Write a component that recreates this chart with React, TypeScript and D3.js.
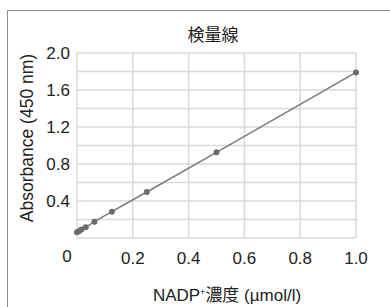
import React, { useRef, useEffect } from 'react';
import * as d3 from 'd3';

const concentrations = [0, 0.0078, 0.0156, 0.03125, 0.0625, 0.125, 0.25, 0.5, 1.0];
const absorbances = [0.062, 0.075, 0.092, 0.116, 0.177, 0.285, 0.497, 0.926, 1.79];
const xTicks = [0.2, 0.4, 0.6, 0.8, 1.0];
const yTicks = [0.4, 0.8, 1.2, 1.6, 2.0];
const gridSteps = [0, 0.2, 0.4, 0.6, 0.8, 1.0, 1.2, 1.4, 1.6, 1.8, 2.0];

const FONT = '"Liberation Sans", Arial, "Noto Sans CJK JP", sans-serif';

const App = () => {
    const svgRef = useRef<SVGSVGElement>(null);

    useEffect(() => {
        const width = 390;
        const height = 307;
        const margin = { top: 53, right: 34, bottom: 69, left: 77 };
        const w = width - margin.left - margin.right;
        const h = height - margin.top - margin.bottom;

        const root = d3.select(svgRef.current);
        root.selectAll('*').remove();
        root.attr('width', width).attr('height', height)
            .style('display', 'block')
            .style('overflow', 'hidden')
            .style('font-family', FONT);

        root.append('rect')
            .attr('x', 7.5).attr('y', 10.5)
            .attr('width', 390).attr('height', 310)
            .attr('fill', '#fff').attr('stroke', '#8c8c8c').attr('stroke-width', 1);

        const svg = root.append('g')
            .attr('transform', `translate(${margin.left},${margin.top})`);

        const x = d3.scaleLinear().domain([0, 1]).range([0, w]);
        const y = d3.scaleLinear().domain([0, 2]).range([h, 0]);

        // grid
        svg.append('g').selectAll('line.h')
            .data(gridSteps)
            .enter().append('line')
            .attr('x1', 0).attr('x2', w)
            .attr('y1', (d) => y(d)).attr('y2', (d) => y(d))
            .attr('stroke', '#d9d9d9').attr('stroke-width', 1.5);

        svg.append('g').selectAll('line.v')
            .data([0, ...xTicks])
            .enter().append('line')
            .attr('x1', (d) => x(d)).attr('x2', (d) => x(d))
            .attr('y1', 0).attr('y2', h)
            .attr('stroke', '#d9d9d9').attr('stroke-width', 1.5);

        // tick labels
        svg.append('g').selectAll('text')
            .data(yTicks)
            .enter().append('text')
            .attr('x', -7).attr('y', (d) => y(d))
            .attr('dy', '0.35em')
            .attr('text-anchor', 'end')
            .attr('font-size', 17)
            .attr('fill', '#222')
            .text((d) => d.toFixed(1));

        svg.append('g').selectAll('text')
            .data(xTicks)
            .enter().append('text')
            .attr('x', (d) => x(d)).attr('y', h + 20)
            .attr('dy', '0.35em')
            .attr('text-anchor', 'middle')
            .attr('font-size', 17)
            .attr('fill', '#222')
            .text((d) => d.toFixed(1));

        svg.append('text')
            .attr('x', x(0) - 10).attr('y', h + 18)
            .attr('dy', '0.35em')
            .attr('text-anchor', 'middle')
            .attr('font-size', 17)
            .attr('fill', '#222')
            .text('0');

        // line + points
        const pts = concentrations.map((c, i) => [c, absorbances[i]] as [number, number]);
        const line = d3.line<[number, number]>()
            .x((d) => x(d[0]))
            .y((d) => y(d[1]));

        svg.append('path')
            .datum(pts)
            .attr('d', line)
            .attr('fill', 'none')
            .attr('stroke', '#7a7a7a')
            .attr('stroke-width', 1.5);

        svg.selectAll('circle')
            .data(pts)
            .enter().append('circle')
            .attr('cx', (d) => x(d[0]))
            .attr('cy', (d) => y(d[1]))
            .attr('r', 3)
            .attr('fill', '#6b6b6b');

        // titles
        root.append('text')
            .attr('x', 213).attr('y', 35)
            .attr('dy', '0.35em')
            .attr('text-anchor', 'middle')
            .attr('font-size', 17)
            .attr('fill', '#222')
            .text('検量線');

        root.append('text')
            .attr('transform', 'translate(27,138) rotate(-90)')
            .attr('dy', '0.35em')
            .attr('text-anchor', 'middle')
            .attr('font-size', 17.5)
            .attr('fill', '#222')
            .text('Absorbance (450 nm)');

        const xt = root.append('text')
            .attr('x', 227).attr('y', 301)
            .attr('text-anchor', 'middle')
            .attr('font-size', 17)
            .attr('fill', '#222');
        xt.append('tspan').text('NADP');
        xt.append('tspan').attr('font-size', 9).attr('dy', -6).text('+');
        xt.append('tspan').attr('dy', 6).text('濃度 (µmol/l)');
    }, []);

    return (
        <div style={{ position: 'fixed', left: 0, top: 0, width: 390, height: 307, overflow: 'hidden' }}>
            <svg ref={svgRef}></svg>
        </div>
    );
};

export default App;
